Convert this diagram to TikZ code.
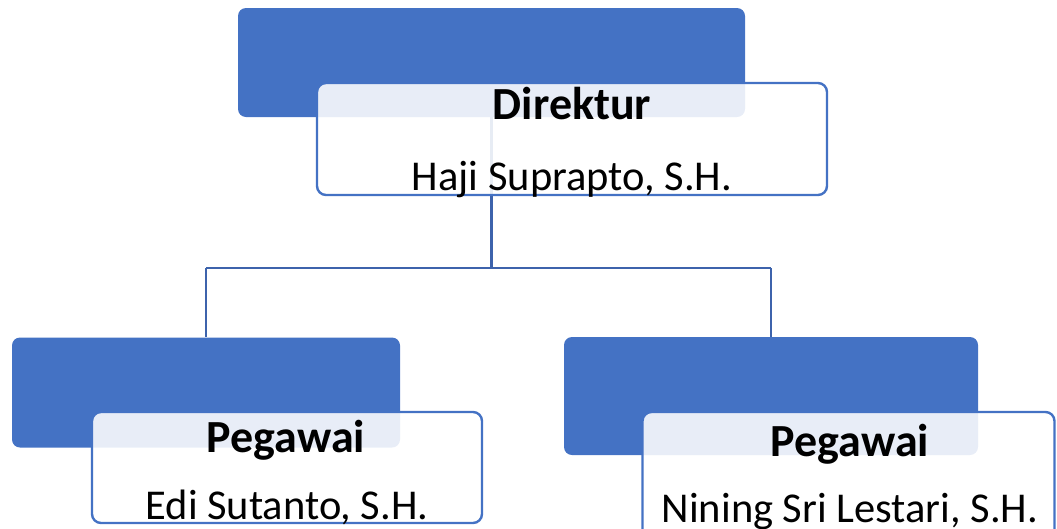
\documentclass[tikz,border=0pt]{standalone}
\usepackage{fontspec}
\setmainfont{Carlito}
\definecolor{accent}{HTML}{4472C4}
\definecolor{connblue}{HTML}{3D63AC}
\begin{document}
\begin{tikzpicture}[x=1pt,y=-1pt,
  bluebox/.style={draw=none, fill=accent, rounded corners=8pt, inner sep=0pt},
  whitebox/.style={draw=accent, line width=2.4pt, fill=white, fill opacity=0.88, draw opacity=1, rounded corners=9pt, inner sep=0pt},
  conn/.style={draw=connblue, line width=2.2pt},
  titletext/.style={font=\fontsize{46}{50}\selectfont\bfseries, anchor=base, inner sep=0pt, text opacity=1},
  persontext/.style={font=\fontsize{42.5}{48}\selectfont, anchor=base, inner sep=0pt, text opacity=1}]
\useasboundingbox (0,0) rectangle (1057,528);
% blue boxes
\node[bluebox, minimum width=507pt, minimum height=109pt] (topB) at (491.5,62.5) {};
\node[bluebox, minimum width=388pt, minimum height=110pt] (leftB) at (206,392.5) {};
\node[bluebox, minimum width=414pt, minimum height=118pt] (rightB) at (771,396) {};
% connectors
\coordinate (jT) at (491.5,268);
\coordinate (jL) at (206,268);
\coordinate (jR) at (771,268);
\draw[conn] (topB.south) -- (jT);
\draw[conn] (jL) -- (jR);
\draw[conn] (jL) -- (leftB.north);
\draw[conn] (jR) -- (rightB.north);
% white boxes
\node[whitebox, minimum width=510pt, minimum height=112pt] (topW) at (572,139) {};
\node[whitebox, minimum width=390pt, minimum height=111pt] (leftW) at (287,467.5) {};
\node[whitebox, minimum width=412pt, minimum height=130pt] (rightW) at (848.5,477) {};
% texts
\node[titletext] (t1) at (572,119) {Direktur};
\node[persontext] (n1) at (572,190) {Haji Suprapto, S.H.};
\node[titletext] (t2) at (286,452) {Pegawai};
\node[persontext] (n2) at (287,519) {Edi Sutanto, S.H.};
\node[titletext] (t3) at (850,456) {Pegawai};
\node[persontext] (n3) at (850,522) {Nining Sri Lestari, S.H.};
\end{tikzpicture}
\end{document}
